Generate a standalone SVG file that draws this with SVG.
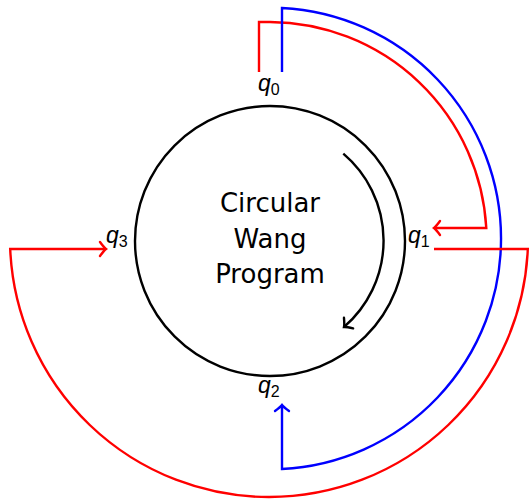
<svg xmlns="http://www.w3.org/2000/svg" width="530" height="501" viewBox="0 0 530 501">
<style>
.ln{fill:none;stroke-width:2.4;stroke-linejoin:miter}
.red{stroke:#ff0000}
.blue{stroke:#0000ff}
.blk{stroke:#000}
.t{font-family:"DejaVu Sans","Liberation Sans",sans-serif;fill:#000}
.q{font-family:"Liberation Sans",sans-serif;font-style:italic;font-size:23px;fill:#000}
.s{font-family:"Liberation Sans",sans-serif;font-style:normal;font-size:16px}
</style>
<defs>
<marker id="arR" markerUnits="userSpaceOnUse" markerWidth="20" markerHeight="20" refX="0" refY="0" viewBox="-10 -10 20 20" orient="auto" overflow="visible">
<path d="M-6,-7 Q-2,-1.5 0,0 Q-2,1.5 -6,7" fill="none" stroke="#ff0000" stroke-width="2.4" stroke-linecap="round"/>
</marker>
<marker id="arB" markerUnits="userSpaceOnUse" markerWidth="20" markerHeight="20" refX="0" refY="0" viewBox="-10 -10 20 20" orient="auto" overflow="visible">
<path d="M-6,-7 Q-2,-1.5 0,0 Q-2,1.5 -6,7" fill="none" stroke="#0000ff" stroke-width="2.4" stroke-linecap="round"/>
</marker>
<marker id="arK" markerUnits="userSpaceOnUse" markerWidth="20" markerHeight="20" refX="0" refY="0" viewBox="-10 -10 20 20" orient="auto" overflow="visible">
<path d="M-6,-7 Q-2,-1.5 0,0 Q-2,1.5 -6,7" fill="none" stroke="#000" stroke-width="2.4" stroke-linecap="round"/>
</marker>
</defs>
<rect width="530" height="501" fill="#fff"/>
<g id="program">
<circle cx="270" cy="241" r="135" fill="none" stroke="#000" stroke-width="2.4"/>
<text class="t" font-size="26" text-anchor="middle"><tspan x="270" y="212">Circular</tspan><tspan x="270" y="247.5">Wang</tspan><tspan x="270" y="283">Program</tspan></text>
<path class="ln blk" d="M343.3,153.7 A114,114 0 0 1 344,327" marker-end="url(#arK)"/>
</g>
<g id="q0"><text class="q" x="258" y="91">q<tspan class="s" dy="4">0</tspan></text></g>
<g id="q1"><text class="q" x="408" y="243">q<tspan class="s" dy="4">1</tspan></text></g>
<g id="q2"><text class="q" x="258" y="393">q<tspan class="s" dy="4">2</tspan></text></g>
<g id="q3"><text class="q" x="106" y="243">q<tspan class="s" dy="4">3</tspan></text></g>
<g id="connectors">
<path class="ln red" d="M259,72 V22 H270 A218,218 0 0 1 486.3,228 H434" marker-end="url(#arR)"/>
<path class="ln blue" d="M282,72 V8 A230.8,230.8 0 0 1 282,469 V405" marker-end="url(#arB)"/>
<path class="ln red" d="M434,249 H527.8 A259,259 0 0 1 269,497 A259,259 0 0 1 10.2,249 H106" marker-end="url(#arR)"/>
</g>
</svg>
